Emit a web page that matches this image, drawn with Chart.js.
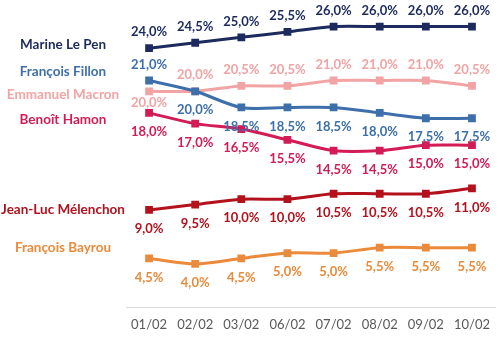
<!DOCTYPE html>
<html>
<head>
<meta charset="utf-8">
<script src="https://cdn.jsdelivr.net/npm/chart.js@4/dist/chart.umd.min.js"></script>
<style>
html,body{margin:0;padding:0;background:#fff;}
#wrap{width:500px;height:338px;position:relative;}
</style>
</head>
<body>
<div id="wrap"><canvas id="c" width="500" height="338"></canvas></div>
<script>
const categories = ['01/02','02/02','03/02','06/02','07/02','08/02','09/02','10/02'];
const candidates = ['Marine Le Pen','François Fillon','Emmanuel Macron','Benoît Hamon','Jean-Luc Mélenchon','François Bayrou'];
const lePen     = [24, 24.5, 25, 25.5, 26, 26, 26, 26];
const fillon    = [21, 20, 18.5, 18.5, 18.5, 18, 17.5, 17.5];
const macron    = [20, 20, 20.5, 20.5, 21, 21, 21, 20.5];
const hamon     = [18, 17, 16.5, 15.5, 14.5, 14.5, 15, 15];
const melenchon = [9, 9.5, 10, 10, 10.5, 10.5, 10.5, 11];
const bayrou    = [4.5, 4, 4.5, 5, 5, 5.5, 5.5, 5.5];

const seriesValues = [lePen, fillon, macron, hamon, melenchon, bayrou];
const colors = ['#1c2a5e', '#3d6fab', '#f2a3a3', '#d31b55', '#b3111c', '#ea8a3a'];
// label placement per point: 'a' above, 'b' below, 'n' near-below
const labelPos = [
  ['a','a','a','a','a','a','a','a'],
  ['a','b','b','b','b','b','b','b'],
  ['n','a','a','a','a','a','a','a'],
  ['b','b','b','b','b','b','b','b'],
  ['b','b','b','b','b','b','b','b'],
  ['b','b','b','b','b','b','b','b']
];
const nameOffsets = [-4, -9, 3, 7, 0, -11];

const fmt = v => v.toFixed(1).replace('.', ',') + '%';

const labelsPlugin = {
  id: 'labelsPlugin',
  afterDatasetsDraw(chart) {
    const ctx = chart.ctx;
    const yScale = chart.scales.y;
    ctx.save();
    ctx.textAlign = 'center';
    ctx.textBaseline = 'middle';
    chart.data.datasets.forEach((ds, i) => {
      const meta = chart.getDatasetMeta(i);
      ctx.fillStyle = colors[i];
      ctx.font = 'bold 13px Lato';
      meta.data.forEach((pt, j) => {
        const p = labelPos[i][j];
        const dy = p === 'a' ? -16 : (p === 'n' ? 12 : 19);
        ctx.fillText(fmt(ds.data[j]), pt.x, pt.y + dy);
      });
      ctx.font = 'bold 13.5px Lato';
      const y = yScale.getPixelForValue(ds.data[0]) + nameOffsets[i];
      ctx.fillText(candidates[i], 63, y);
    });
    ctx.restore();
  }
};

new Chart(document.getElementById('c'), {
  type: 'line',
  data: {
    labels: categories,
    datasets: seriesValues.map((vals, i) => ({
      label: candidates[i],
      data: vals,
      borderColor: colors[i],
      backgroundColor: colors[i],
      borderWidth: 3,
      pointStyle: 'rect',
      pointRadius: 5.5,
      pointBorderWidth: 0,
      tension: 0.3,
      fill: false
    }))
  },
  options: {
    responsive: false,
    animation: false,
    layout: { autoPadding: false, padding: { left: 126, right: 0, top: 5, bottom: 0 } },
    plugins: { legend: { display: false }, tooltip: { enabled: false } },
    scales: {
      x: {
        offset: true,
        grid: { display: false, drawTicks: false },
        border: { color: '#d9d9d9', width: 1 },
        ticks: { color: '#595959', font: { family: 'Lato', size: 13 }, padding: 10, maxRotation: 0 },
        afterFit(scale) { scale.height = 31; }
      },
      y: { display: false, min: 0, max: 28 }
    }
  },
  plugins: [labelsPlugin]
});
</script>
</body>
</html>
